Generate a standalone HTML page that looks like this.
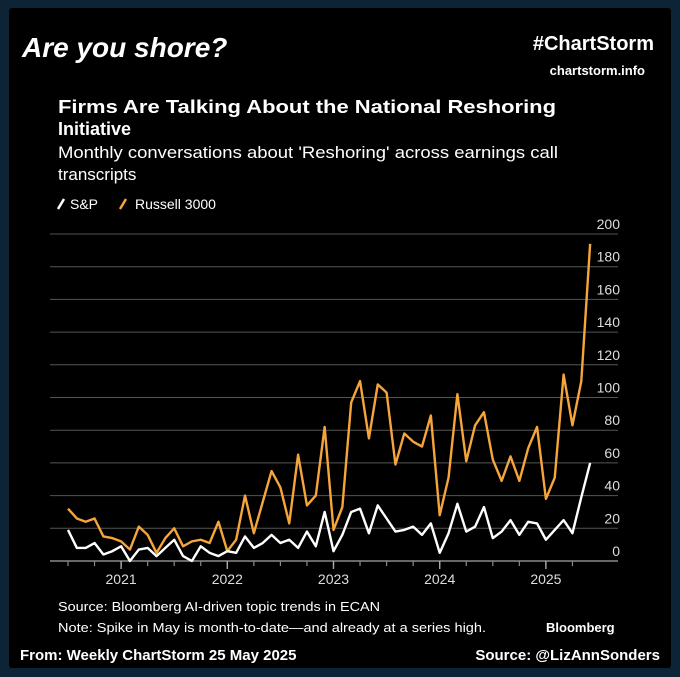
<!DOCTYPE html>
<html><head><meta charset="utf-8"><style>
html,body{margin:0;padding:0;background:#000;}
svg{display:block;font-family:"Liberation Sans",sans-serif;}
</style></head><body>
<svg id="chart" width="680" height="677" viewBox="0 0 680 677">
<rect x="0" y="0" width="680" height="677" fill="#0d2436"/>
<rect x="9" y="8" width="662" height="660" fill="#000" rx="3"/>
<text x="22" y="57" fill="#fff" font-size="28" font-weight="bold" font-style="italic">Are you shore?</text>
<text x="654" y="50" fill="#fff" font-size="20" font-weight="bold" text-anchor="end">#ChartStorm</text>
<text x="645" y="75" fill="#fff" font-size="13" font-weight="bold" text-anchor="end">chartstorm.info</text>
<text x="58" y="113" fill="#fff" font-size="18" font-weight="bold" textLength="498" lengthAdjust="spacingAndGlyphs">Firms Are Talking About the National Reshoring</text>
<text x="58" y="135" fill="#fff" font-size="18" font-weight="bold">Initiative</text>
<text x="58" y="158" fill="#fff" font-size="17" textLength="500" lengthAdjust="spacingAndGlyphs">Monthly conversations about 'Reshoring' across earnings call</text>
<text x="58" y="180" fill="#fff" font-size="17">transcripts</text>
<g>
<line x1="58" y1="209" x2="64" y2="199" stroke="#fff" stroke-width="2.5"/>
<text x="70" y="209" fill="#fff" font-size="14">S&amp;P</text>
<line x1="120" y1="209" x2="126" y2="199" stroke="#f5a53a" stroke-width="2.5"/>
<text x="135" y="209" fill="#fff" font-size="14">Russell 3000</text>
</g>
<g id="grid"></g>
<g id="yticks"></g>
<g id="xticks"></g>
<g id="series"></g>
<text x="58" y="611" fill="#fff" font-size="13" textLength="322" lengthAdjust="spacingAndGlyphs">Source: Bloomberg AI-driven topic trends in ECAN</text>
<text x="58" y="632" fill="#fff" font-size="13" textLength="428" lengthAdjust="spacingAndGlyphs">Note: Spike in May is month-to-date—and already at a series high.</text>
<text x="546" y="632" fill="#fff" font-size="13" font-weight="bold">Bloomberg</text>
<text x="20" y="660" fill="#fff" font-size="15" font-weight="bold">From: Weekly ChartStorm 25 May 2025</text>
<text x="660" y="660" fill="#fff" font-size="15" font-weight="bold" text-anchor="end">Source: @LizAnnSonders</text>
</svg>
<script>
const yTicks = [0,20,40,60,80,100,120,140,160,180,200];
const xYears = ["2021","2022","2023","2024","2025"];
const xYearIndex = [6,18,30,42,54];
const russell = [32,26,24,26,15,14,12,7,21,16,5,14,20,9,12,13,11,24,6,13,40,17,36,55,45,23,65,34,40,82,19,33,97,110,75,108,103,59,78,73,70,89,28,51,102,61,83,91,62,49,64,49,69,82,38,51,114,83,110,194];
const sp = [19,8,8,11,4,6,9,0,7,8,3,8,13,3,0,9,5,3,6,5,15,8,11,16,11,13,8,18,9,30,6,16,30,32,17,34,26,18,19,21,16,23,5,17,35,18,21,33,14,18,25,16,24,23,13,19,25,17,39,60];

const NS="http://www.w3.org/2000/svg";
const X0=68, DX=8.85, Y0=561, YK=1.635;
const xs=i=>X0+i*DX;
const ys=v=>Y0-v*YK;
function mk(tag,attrs,parent){const e=document.createElementNS(NS,tag);for(const k in attrs)e.setAttribute(k,attrs[k]);parent.appendChild(e);return e;}
const grid=document.getElementById('grid'), yt=document.getElementById('yticks'), xt=document.getElementById('xticks'), ser=document.getElementById('series');
yTicks.forEach(v=>{
  const l=mk('line',{x1:50,x2:618,y1:ys(v),y2:ys(v),stroke:v===0?'#8a8a8a':'#555','stroke-width':v===0?1.5:1},grid);
  
  
  const t=mk('text',{x:620,y:ys(v)-5,fill:'#ddd','font-size':14,'text-anchor':'end'},yt);
  t.textContent=v;
  
  
});
for(let i=0;i<russell.length;i+=3){
  const l=mk('line',{x1:xs(i),x2:xs(i),y1:Y0,y2:Y0+5,stroke:'#8a8a8a','stroke-width':1.2},xt);
  
  
}
xYears.forEach((y,k)=>{
  const i=xYearIndex[k];
  const l=mk('line',{x1:xs(i),x2:xs(i),y1:Y0,y2:Y0+8,stroke:'#aaa','stroke-width':1.4},xt);
  
  
  const t=mk('text',{x:xs(i),y:584,fill:'#ddd','font-size':14,'text-anchor':'middle'},xt);
  t.textContent=y;
  
  
});
function line(data,color,name){
  const p=mk('polyline',{points:data.map((v,i)=>xs(i)+','+ys(v)).join(' '),fill:'none',stroke:color,'stroke-width':2.4,'stroke-linejoin':'round'},ser);
  
  
}
line(russell,'#f5a53a','russell-3000-line');
line(sp,'#ffffff','sp-line');
</script>
</body></html>
